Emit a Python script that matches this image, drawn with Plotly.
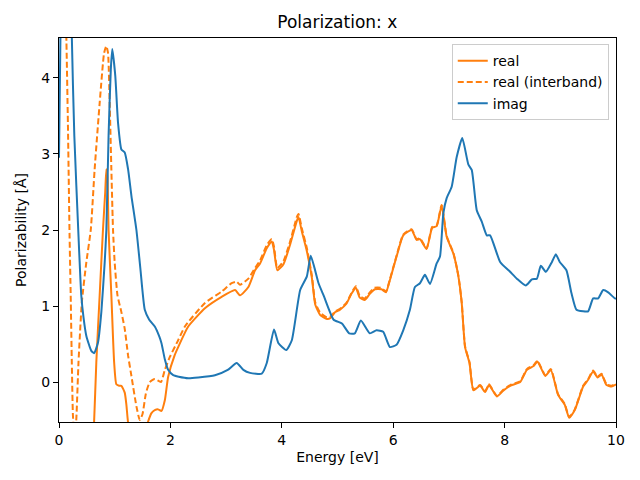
import plotly.graph_objects as go

# ---- data ----
real_x = [0.00, 0.30, 0.50, 0.58, 0.63, 0.67, 0.73, 0.79, 0.83, 0.85, 0.87, 0.89, 0.94, 0.99,
          1.03, 1.08, 1.12, 1.18, 1.21, 1.24, 1.30, 1.42, 1.55, 1.60, 1.66, 1.72, 1.78, 1.84,
          1.90, 1.96, 2.08, 2.14, 2.32, 2.62, 2.92, 3.16, 3.25, 3.40, 3.52, 3.61, 3.73, 3.82,
          3.86, 3.92, 4.03, 4.15, 4.27, 4.30, 4.36, 4.45, 4.54, 4.60, 4.69, 4.81, 4.87, 4.96,
          5.04, 5.16, 5.25, 5.33, 5.40, 5.49, 5.58, 5.67, 5.79, 5.87, 5.94, 6.06, 6.18, 6.33,
          6.42, 6.48, 6.60, 6.70, 6.78, 6.87, 6.96, 7.08, 7.17, 7.23, 7.29, 7.37, 7.44, 7.56,
          7.65, 7.72, 7.86, 7.98, 8.10, 8.28, 8.40, 8.52, 8.59, 8.73, 8.83, 8.96, 9.08, 9.16,
          9.26, 9.41, 9.50, 9.59, 9.67, 9.74, 9.83, 9.92, 10.00]
real_y = [-20.0, -8.0, -3.0, -1.2, -0.53, 0.26, 1.14, 2.01, 2.50, 2.80, 2.70, 2.00, 1.14, 0.26,
          -0.03, -0.05, -0.05, -0.14, -0.30, -0.53, -0.70, -0.75, -0.65, -0.52, -0.41, -0.37, -0.36, -0.38,
          -0.24, 0.07, 0.36, 0.46, 0.73, 0.97, 1.12, 1.21, 1.14, 1.25, 1.47, 1.56, 1.76, 1.85,
          1.74, 1.47, 1.55, 1.81, 2.12, 2.17, 1.98, 1.72, 1.37, 1.02, 0.88, 0.83, 0.84, 0.92,
          0.95, 1.03, 1.16, 1.24, 1.11, 1.08, 1.16, 1.22, 1.22, 1.18, 1.34, 1.65, 1.93, 2.00,
          1.87, 1.88, 1.75, 2.03, 2.05, 2.32, 1.91, 1.69, 1.39, 1.04, 0.46, 0.25, -0.11, -0.05,
          -0.13, -0.04, -0.19, -0.11, -0.05, 0.00, 0.16, 0.21, 0.27, 0.08, 0.16, -0.17, -0.30, -0.47,
          -0.37, -0.06, 0.03, 0.14, 0.06, 0.10, -0.04, -0.06, -0.03]

inter_x = [0.00, 0.08, 0.13, 0.16, 0.19, 0.21, 0.23, 0.25, 0.28, 0.31, 0.35, 0.41, 0.49, 0.57,
           0.64, 0.73, 0.81, 0.85, 0.88, 0.91, 0.94, 0.97, 1.00, 1.05, 1.12, 1.18, 1.24, 1.30,
           1.39, 1.45, 1.50, 1.56, 1.63, 1.72, 1.83, 1.90, 1.99, 2.14, 2.26, 2.62, 2.92, 3.10,
           3.19, 3.25, 3.40, 3.52, 3.61, 3.73, 3.82, 3.86, 3.92, 4.03, 4.15, 4.27, 4.30, 4.36,
           4.45, 4.54, 4.60, 4.69, 4.81, 4.87, 4.96, 5.04, 5.16, 5.25, 5.33, 5.40, 5.49, 5.58,
           5.67, 5.79, 5.87, 5.94, 6.06, 6.18, 6.33, 6.42, 6.48, 6.60, 6.70, 6.78, 6.87, 6.96,
           7.08, 7.17, 7.23, 7.29, 7.37, 7.44, 7.56, 7.65, 7.72, 7.86, 7.98, 8.10, 8.28, 8.40,
           8.52, 8.59, 8.73, 8.83, 8.96, 9.08, 9.16, 9.26, 9.41, 9.50, 9.59, 9.67, 9.74, 9.83,
           9.92, 10.00]
inter_y = [8.0, 6.0, 4.6, 3.4, 1.92, 1.14, 0.26, -0.44, -0.75, -0.50, 0.26, 1.05, 1.57, 2.00,
           2.80, 3.67, 4.33, 4.42, 4.33, 3.67, 2.80, 2.00, 1.57, 1.14, 0.92, 0.70, 0.35, 0.08,
           -0.32, -0.50, -0.42, -0.15, 0.00, 0.04, 0.00, 0.16, 0.33, 0.55, 0.73, 1.04, 1.19, 1.30,
           1.32, 1.28, 1.36, 1.50, 1.60, 1.80, 1.88, 1.78, 1.50, 1.59, 1.85, 2.17, 2.21, 2.02,
           1.76, 1.40, 1.05, 0.91, 0.85, 0.86, 0.93, 0.96, 1.04, 1.17, 1.26, 1.13, 1.10, 1.18,
           1.24, 1.24, 1.19, 1.35, 1.66, 1.94, 2.01, 1.88, 1.89, 1.76, 2.04, 2.06, 2.33, 1.92,
           1.70, 1.40, 1.05, 0.47, 0.26, -0.10, -0.04, -0.12, -0.03, -0.18, -0.10, -0.04, 0.01, 0.17,
           0.22, 0.28, 0.09, 0.17, -0.16, -0.29, -0.46, -0.36, -0.05, 0.04, 0.15, 0.07, 0.11, -0.03,
           -0.05, -0.02]

imag_x = [0.00, 0.03, 0.06, 0.12, 0.18, 0.23, 0.275, 0.35, 0.40, 0.44, 0.49, 0.58, 0.63, 0.70,
          0.76, 0.82, 0.85, 0.89, 0.93, 0.957, 1.01, 1.06, 1.12, 1.18, 1.24, 1.30, 1.39, 1.46,
          1.54, 1.62, 1.72, 1.80, 1.84, 1.90, 1.96, 2.05, 2.15, 2.32, 2.50, 2.80, 3.03, 3.19,
          3.31, 3.43, 3.64, 3.73, 3.86, 3.94, 4.08, 4.18, 4.33, 4.45, 4.52, 4.66, 4.75, 4.93,
          5.08, 5.21, 5.31, 5.42, 5.58, 5.70, 5.82, 5.94, 6.06, 6.18, 6.30, 6.39, 6.48, 6.57,
          6.66, 6.78, 6.84, 6.90, 6.96, 7.05, 7.14, 7.24, 7.35, 7.41, 7.50, 7.59, 7.68, 7.74,
          7.92, 8.10, 8.22, 8.38, 8.49, 8.58, 8.65, 8.74, 8.85, 8.92, 8.99, 9.11, 9.20, 9.29,
          9.41, 9.50, 9.59, 9.68, 9.77, 9.86, 9.98, 10.00]
imag_y = [2.95, 4.80, 7.00, 9.00, 7.00, 4.55, 3.24, 1.92, 1.14, 0.85, 0.61, 0.41, 0.38, 0.52,
          0.92, 1.57, 2.00, 3.24, 4.11, 4.38, 4.03, 3.41, 3.06, 3.02, 2.80, 2.45, 2.00, 1.50,
          0.95, 0.82, 0.73, 0.60, 0.51, 0.30, 0.16, 0.09, 0.07, 0.05, 0.06, 0.09, 0.16, 0.25,
          0.16, 0.12, 0.11, 0.25, 0.69, 0.51, 0.42, 0.55, 1.21, 1.39, 1.66, 1.30, 1.14, 0.82,
          0.77, 0.64, 0.64, 0.81, 0.64, 0.68, 0.66, 0.46, 0.49, 0.68, 0.95, 1.25, 1.30, 1.41,
          1.29, 1.56, 1.65, 2.22, 2.42, 2.57, 2.96, 3.21, 2.86, 2.79, 2.26, 2.11, 1.93, 1.93,
          1.58, 1.45, 1.36, 1.27, 1.35, 1.36, 1.53, 1.45, 1.58, 1.68, 1.58, 1.47, 1.17, 0.95,
          0.93, 0.93, 1.10, 1.10, 1.21, 1.18, 1.10, 1.10]

x_ticks = [0, 2, 4, 6, 8, 10]
y_ticks = [0, 1, 2, 3, 4]

ORANGE = "#ff7f0e"
BLUE = "#1f77b4"
FONT = "DejaVu Sans"

fig = go.Figure()
fig.add_trace(go.Scatter(x=real_x, y=real_y, mode="lines", name="real",
                         line=dict(color=ORANGE, width=2, shape="spline", smoothing=0.5)))
fig.add_trace(go.Scatter(x=inter_x, y=inter_y, mode="lines", name="real (interband)",
                         line=dict(color=ORANGE, width=2, dash="6px,3px",
                                   shape="spline", smoothing=0.5)))
fig.add_trace(go.Scatter(x=imag_x, y=imag_y, mode="lines", name="imag",
                         line=dict(color=BLUE, width=2, shape="spline", smoothing=0.5)))

axis_common = dict(showline=True, linecolor="black", linewidth=1, mirror=True,
                   ticks="outside", ticklen=5, tickwidth=1, tickcolor="black",
                   showgrid=False, zeroline=False,
                   tickfont=dict(family=FONT, size=14, color="black"))

fig.update_layout(
    width=640, height=480,
    margin=dict(l=59, r=24, t=38, b=58),
    paper_bgcolor="white", plot_bgcolor="white",
    font=dict(family=FONT, size=14, color="black"),
    title=dict(text="Polarization: x", x=0.527, xanchor="center",
               y=1 - 22 / 480, yanchor="middle",
               font=dict(family=FONT, size=17, color="black")),
    xaxis=dict(range=[0, 10], tickvals=x_ticks,
               title=dict(text="Energy [eV]", standoff=5,
                          font=dict(family=FONT, size=14)),
               **axis_common),
    yaxis=dict(range=[-0.526, 4.526], tickvals=y_ticks,
               title=dict(text="Polarizability [Å]", standoff=11,
                          font=dict(family=FONT, size=14)),
               **axis_common),
    legend=dict(x=0.987, y=0.984, xanchor="right", yanchor="top",
                bgcolor="rgba(255,255,255,0.8)", bordercolor="#cccccc", borderwidth=1,
                font=dict(family=FONT, size=14, color="black"),
                tracegroupgap=0, itemwidth=30),
    showlegend=True,
)

fig.write_html("out.html",
               config={"displayModeBar": False},
               post_script="document.body.style.margin='0';document.body.style.overflow='hidden';")
